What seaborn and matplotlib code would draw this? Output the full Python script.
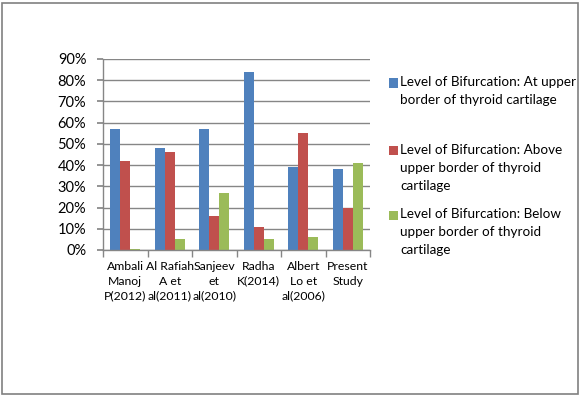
import matplotlib
matplotlib.use("Agg")
import matplotlib.pyplot as plt
import seaborn as sns
import pandas as pd
from matplotlib.patches import Rectangle
from matplotlib.ticker import PercentFormatter, FixedLocator

categories = ["Ambali\nManoj\nP(2012)", "Al Rafiah\nA et\nal(2011)", "Sanjeev\net\nal(2010)",
              "Radha\nK(2014)", "Albert\nLo et\nal(2006)", "Present\nStudy"]
series_names = ["Level of Bifurcation: At upper border of thyroid cartilage",
                "Level of Bifurcation: Above upper border of thyroid cartilage",
                "Level of Bifurcation: Below upper border of thyroid cartilage"]
legend_labels = ["Level of Bifurcation: At upper\nborder of thyroid cartilage",
                 "Level of Bifurcation: Above\nupper border of thyroid\ncartilage",
                 "Level of Bifurcation: Below\nupper border of thyroid\ncartilage"]
at_upper = [0.57, 0.48, 0.57, 0.84, 0.39, 0.38]
above_upper = [0.42, 0.46, 0.16, 0.11, 0.55, 0.20]
below_upper = [0.006, 0.05, 0.27, 0.05, 0.06, 0.41]
colors = ["#4F81BD", "#C0504D", "#9BBB59"]

rows = []
for name, vals in zip(series_names, [at_upper, above_upper, below_upper]):
    for c, v in zip(categories, vals):
        rows.append({"category": c, "series": name, "value": v})
df = pd.DataFrame(rows)

sns.set_theme(style="white")
plt.rcParams["font.family"] = ["Lato", "DejaVu Sans"]

W, H = 581, 397
fig = plt.figure(figsize=(W / 100, H / 100), dpi=100)
ax = fig.add_axes([103 / W, 1 - 250 / H, (370 - 103) / W, (250 - 59) / H])

sns.barplot(data=df, x="category", y="value", hue="series", order=categories,
            hue_order=series_names, palette=colors, width=0.67, saturation=1,
            ax=ax, legend=False, linewidth=0)

ax.set_ylim(0, 0.9)
ax.set_xlim(-0.5, len(categories) - 0.5)
ax.yaxis.set_major_formatter(PercentFormatter(1.0, decimals=0))
ax.set_yticks([i / 10 for i in range(10)])
ax.grid(axis="y", color="#868686", linewidth=1)
ax.set_axisbelow(True)
ax.set_xlabel("")
ax.set_ylabel("")
for s in ["top", "right"]:
    ax.spines[s].set_visible(False)
for s in ["left", "bottom"]:
    ax.spines[s].set_color("#868686")
    ax.spines[s].set_linewidth(1)

ax.tick_params(axis="y", which="major", left=True, length=4, color="#868686",
               labelsize=10.5, labelcolor="black", pad=8)
# x: labels at centers, tick marks at boundaries
ax.set_xticks(range(len(categories)))
ax.set_xticklabels(categories, fontsize=8.8, linespacing=1.4)
ax.tick_params(axis="x", which="major", bottom=False, pad=2, labelcolor="black")
ax.xaxis.set_minor_locator(FixedLocator([i - 0.5 for i in range(len(categories) + 1)]))
ax.tick_params(axis="x", which="minor", bottom=True, length=5, color="#868686")
for lbl in ax.get_xticklabels():
    lbl.set_verticalalignment("top")

# legend
tops = [83, 150, 215]
for lab, col, y in zip(legend_labels, colors, tops):
    fig.patches.append(Rectangle((389 / W, 1 - (y + 4.5) / H), 9 / W, 9 / H,
                                 transform=fig.transFigure, facecolor=col,
                                 edgecolor="none"))
    fig.text(400 / W, 1 - (y - 6.5) / H, lab, fontsize=9.7, va="top", ha="left",
             linespacing=1.6, color="black")

# outer border
fig.patches.append(Rectangle((2.5 / W, 1 - 393.5 / H), 575.5 / W, 391 / H,
                             transform=fig.transFigure, fill=False,
                             edgecolor="#808080", linewidth=1.2))

fig.savefig("out.png", dpi=100)
